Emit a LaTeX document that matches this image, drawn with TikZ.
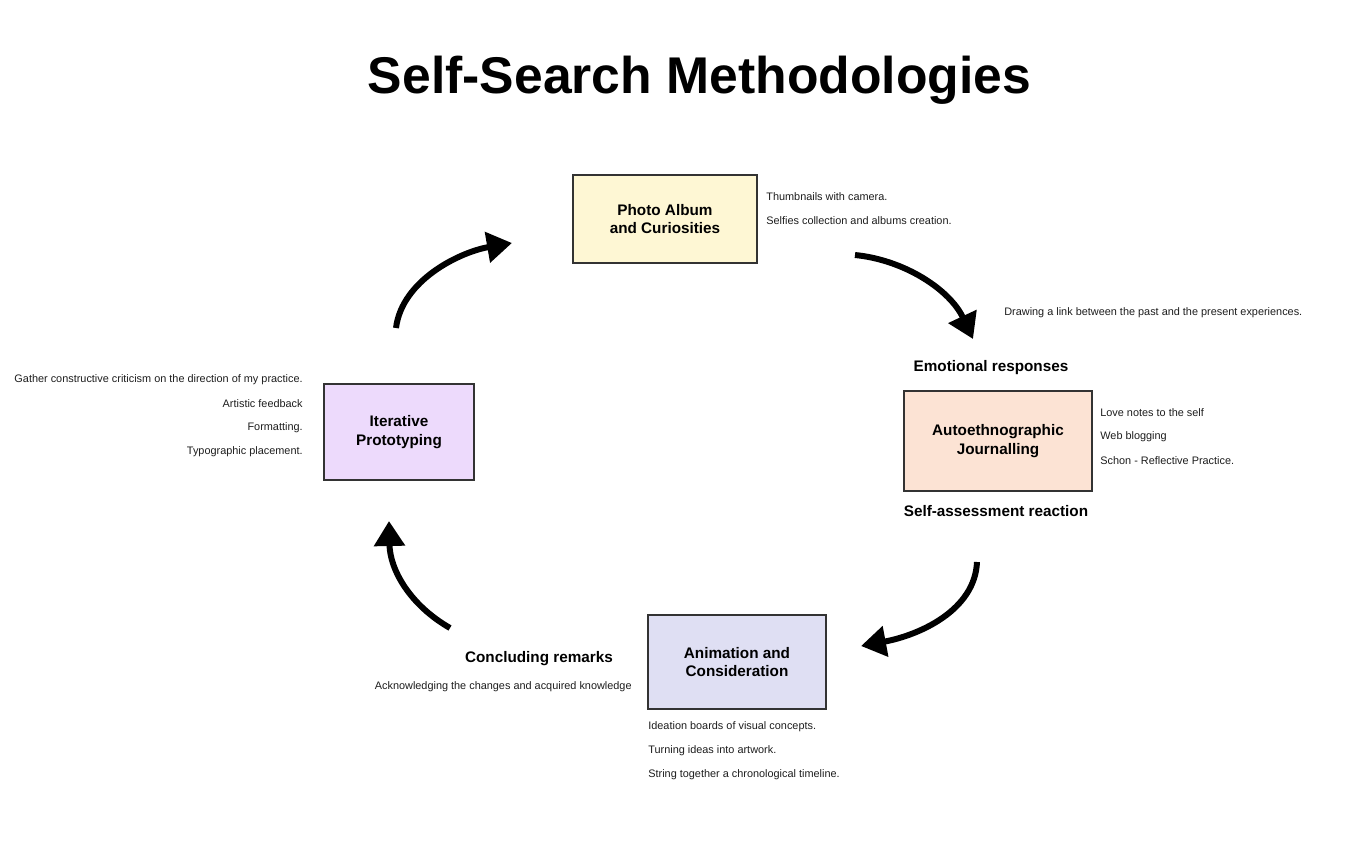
\documentclass[tikz,border=0pt]{standalone}
\usepackage{fontspec}
\setmainfont{Liberation Sans}
\usetikzlibrary{arrows.meta}
\definecolor{MyYellow}{RGB}{254,247,212}
\definecolor{MyPeach}{RGB}{252,227,212}
\definecolor{MyLavender}{RGB}{223,223,243}
\definecolor{MyViolet}{RGB}{237,218,252}
\definecolor{MyBorder}{RGB}{51,51,51}
\definecolor{MyInk}{RGB}{30,30,30}

\begin{document}
\begin{tikzpicture}[x=0.02cm,y=-0.02cm,
    box/.style={draw=MyBorder,line width=0.6pt,align=center,inner sep=2pt,font=\fontsize{8.7}{10.4}\selectfont\bfseries},
    heading/.style={inner sep=0pt,font=\fontsize{8.7}{10.4}\selectfont\bfseries},
    note/.style={inner sep=0pt,text=MyInk,font=\fontsize{6.2}{7.4}\selectfont},
    cyclearrow/.style={line width=3.4pt,-{Triangle[length=0.5cm,width=0.6cm]}}]
                \fill[white] (0,0) rectangle (1360,846);
                \useasboundingbox (0,0) rectangle (1360,846);

                \node[anchor=base,inner sep=0pt,font=\fontsize{29.4}{32}\selectfont\bfseries] (title) at (699.5,93) {Self-Search Methodologies};

                \node[box,fill=MyYellow,minimum width=3.68cm,minimum height=1.76cm] (photo) at (665,219) {Photo Album\\and Curiosities};
                \node[box,fill=MyPeach,minimum width=3.76cm,minimum height=2cm] (journal) at (998,441) {Autoethnographic\\Journalling};
                \node[box,fill=MyLavender,minimum width=3.56cm,minimum height=1.88cm] (anim) at (737,662) {Animation and\\Consideration};
                \node[box,fill=MyViolet,minimum width=3cm,minimum height=1.92cm] (iter) at (399,432) {Iterative\\Prototyping};

                \node[note,anchor=west] (photoA) at (766,197) {Thumbnails with camera.};
                \node[note,anchor=west] (photoB) at (766,221) {Selfies collection and albums creation.};
                \node[note,anchor=west] (link) at (1004,313) {Drawing a link between the past and the present experiences.};

                \node[heading] (emotion) at (991,368) {Emotional responses};
                \node[heading] (assess) at (996,511) {Self-assessment reaction};
                \node[note,anchor=west] (journalA) at (1100,413) {Love notes to the self};
                \node[note,anchor=west] (journalB) at (1100,437) {Web blogging};
                \node[note,anchor=west] (journalC) at (1100,461) {Schon - Reflective Practice.};

                \node[note,anchor=west] (animA) at (648,727) {Ideation boards of visual concepts.};
                \node[note,anchor=west] (animB) at (648,751) {Turning ideas into artwork.};
                \node[note,anchor=west] (animC) at (648,775) {String together a chronological timeline.};

                \node[heading] (conclude) at (539,659) {Concluding remarks};
                \node[note,anchor=east] (ack) at (632,687) {Acknowledging the changes and acquired knowledge};

                \node[note,anchor=east] (iterA) at (303,380) {Gather constructive criticism on the direction of my practice.};
                \node[note,anchor=east] (iterB) at (303,404) {Artistic feedback};
                \node[note,anchor=east] (iterC) at (303,428) {Formatting.};
                \node[note,anchor=east] (iterD) at (303,452) {Typographic placement.};

                \coordinate (iterOut) at (396,328);
                \coordinate (photoIn) at (512,243);
                \coordinate (photoOut) at (855,255);
                \coordinate (journalIn) at (973,339);
                \coordinate (journalOut) at (977,562);
                \coordinate (animIn) at (861,646);
                \coordinate (animOut) at (450,628);
                \coordinate (iterIn) at (389,521);

                \draw[cyclearrow] (iterOut) .. controls (402,280) and (460,252) .. (photoIn);
                \draw[cyclearrow] (photoOut) .. controls (905,260) and (950,290) .. (journalIn);
                \draw[cyclearrow] (journalOut) .. controls (975,610) and (920,635) .. (animIn);
                \draw[cyclearrow] (animOut) .. controls (410,605) and (390,570) .. (iterIn);
\end{tikzpicture}
\end{document}
